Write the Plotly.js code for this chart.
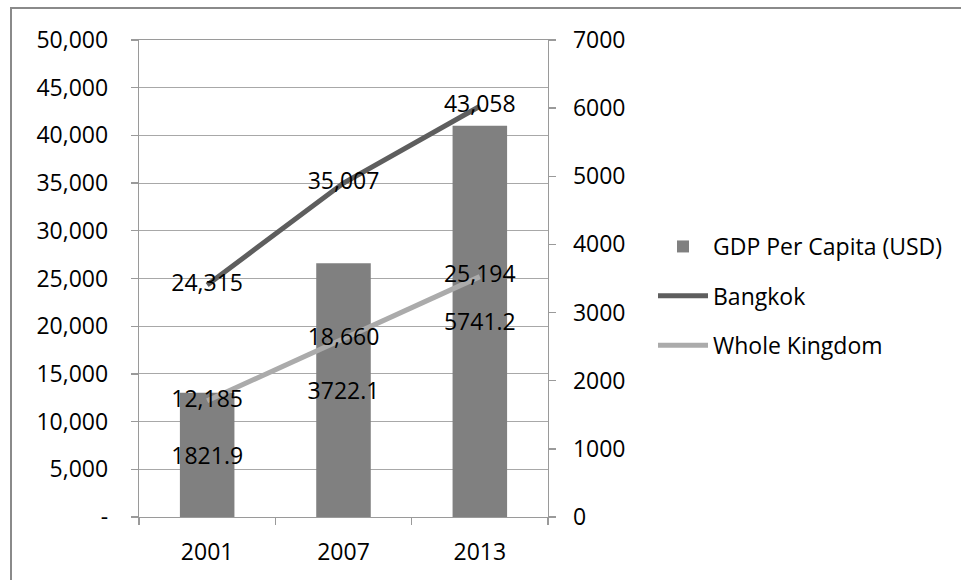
<!DOCTYPE html>
<html>
<head>
<meta charset="utf-8">
<script src="https://cdn.plot.ly/plotly-3.0.1.min.js"></script>
<style>
  html, body { margin: 0; padding: 0; background: #fff; }
  #chart { width: 961px; height: 580px; }
</style>
</head>
<body>
<div id="chart"></div>
<script>
// ---- data ----
const years = ['2001', '2007', '2013'];
const gdpPerCapita = [1821.9, 3722.1, 5741.2];      // right axis (bars)
const bangkok = [24315, 35007, 43058];              // left axis (line)
const wholeKingdom = [12185, 18660, 25194];         // left axis (line)
const leftTickVals = [0, 5000, 10000, 15000, 20000, 25000, 30000, 35000, 40000, 45000, 50000];
const leftTickText = ['-', '5,000', '10,000', '15,000', '20,000', '25,000', '30,000', '35,000', '40,000', '45,000', '50,000'];
const seriesNames = ['GDP Per Capita (USD)', 'Bangkok', 'Whole Kingdom'];

const fmt = v => v.toLocaleString('en-US');
const FONT = 'Open Sans, sans-serif';
const FS = 23;
const AXIS = '#9a9a9a';

const traces = [
  { type: 'bar', name: seriesNames[0], x: years, y: gdpPerCapita, yaxis: 'y', xaxis: 'x', legendgroup: 'a',
    marker: { color: '#808080' }, text: gdpPerCapita.map(v => v.toFixed(1)),
    textposition: 'inside', insidetextanchor: 'middle', textangle: 0, constraintext: 'none', cliponaxis: false,
    insidetextfont: { color: '#000', size: FS, family: FONT }, hoverinfo: 'skip' },
  { type: 'scatter', mode: 'lines+text', name: seriesNames[1], x: years, y: bangkok, yaxis: 'y2', xaxis: 'x', legendgroup: 'b',
    line: { color: '#5e5e5e', width: 5 }, text: bangkok.map(fmt), textposition: 'middle center',
    textfont: { color: '#000', size: FS, family: FONT }, hoverinfo: 'skip' },
  { type: 'scatter', mode: 'lines+text', name: seriesNames[2], x: years, y: wholeKingdom, yaxis: 'y2', xaxis: 'x', legendgroup: 'c',
    line: { color: '#ababab', width: 5 }, text: wholeKingdom.map(fmt), textposition: 'middle center',
    textfont: { color: '#000', size: FS, family: FONT }, hoverinfo: 'skip' }
];

const L = 139, R = 548, T = 40, B = 517;
const pw = R - L, ph = B - T;

const layout = {
  width: 961, height: 580,
  margin: { l: L, r: 961 - R, t: T, b: 580 - B, pad: 0 },
  paper_bgcolor: '#fff', plot_bgcolor: 'rgba(0,0,0,0)',
  font: { family: FONT, size: FS, color: '#000' },
  showlegend: true, bargap: 0.6,
  xaxis: { type: 'category', categoryorder: 'array', categoryarray: years,
    tickson: 'boundaries', ticks: 'outside', ticklen: 7, tickwidth: 1.3, tickcolor: AXIS,
    showline: true, mirror: true, linecolor: AXIS, linewidth: 1.3,
    showgrid: false, zeroline: false, ticklabelstandoff: 14 },
  yaxis: { side: 'right', range: [0, 7000], dtick: 1000, tick0: 0, tickformat: 'd',
    ticks: 'outside', ticklen: 7, tickwidth: 1.3, tickcolor: AXIS,
    showline: true, linecolor: AXIS, linewidth: 1.3, showgrid: false, zeroline: false, ticklabelstandoff: 12 },
  yaxis2: { side: 'left', overlaying: 'y', anchor: 'x', range: [0, 50000],
    tickmode: 'array', tickvals: leftTickVals, ticktext: leftTickText,
    ticks: 'outside', ticklen: 7, tickwidth: 1.3, tickcolor: AXIS,
    showline: true, linecolor: AXIS, linewidth: 1.3,
    showgrid: true, gridcolor: '#a8a8a8', gridwidth: 1.2, zeroline: false, ticklabelstandoff: 18 },
  legend: { x: (653 - L) / pw, y: (B - 225) / ph, xanchor: 'left', yanchor: 'top',
    bgcolor: 'rgba(0,0,0,0)', borderwidth: 0, traceorder: 'grouped', tracegroupgap: 16.5, itemwidth: 50 },
  shapes: [{ type: 'rect', xref: 'paper', yref: 'paper',
    x0: (11 - L) / pw, x1: (1000 - L) / pw, y0: (B - 620) / ph, y1: (B - 8) / ph,
    line: { color: '#8a8a8a', width: 2 }, fillcolor: 'rgba(0,0,0,0)', layer: 'above' }]
};

Plotly.newPlot('chart', traces, layout, { staticPlot: true, displayModeBar: false });
</script>
</body>
</html>
